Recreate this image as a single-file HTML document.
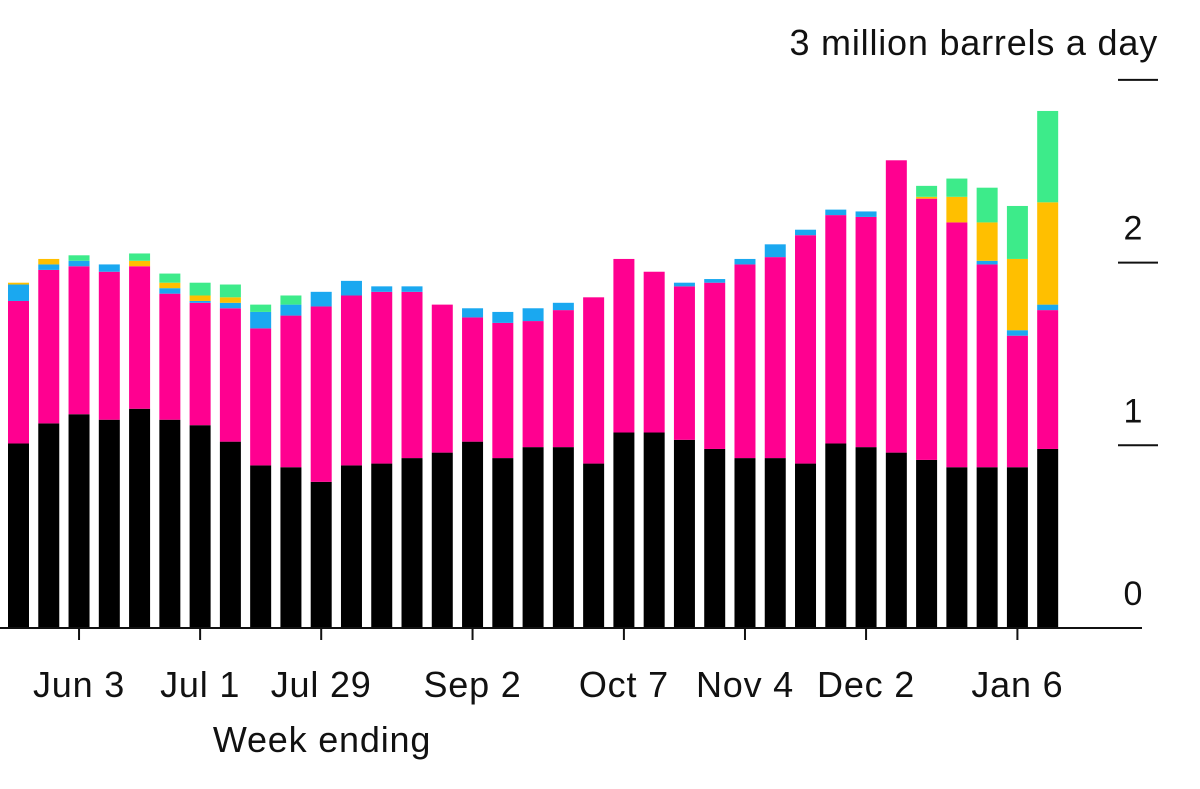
<!DOCTYPE html>
<html><head><meta charset="utf-8"><style>
body{margin:0;background:#fff;font-family:"Liberation Sans",sans-serif}
svg text{font-family:"Liberation Sans",sans-serif;fill:#111}
</style></head><body>
<svg id="chart" width="1200" height="784" viewBox="0 0 1200 784" xmlns="http://www.w3.org/2000/svg"></svg>
<script>
const black=[1.01,1.12,1.17,1.14,1.20,1.14,1.11,1.02,0.89,0.88,0.80,0.89,0.90,0.93,0.96,1.02,0.93,0.99,0.99,0.90,1.07,1.07,1.03,0.98,0.93,0.93,0.90,1.01,0.99,0.96,0.92,0.88,0.88,0.88,0.98];
const pink=[0.78,0.84,0.81,0.81,0.78,0.69,0.67,0.73,0.75,0.83,0.96,0.93,0.94,0.91,0.81,0.68,0.74,0.69,0.75,0.91,0.95,0.88,0.84,0.91,1.06,1.10,1.25,1.25,1.26,1.60,1.43,1.34,1.11,0.72,0.76];
const blue=[0.09,0.03,0.03,0.04,0,0.03,0.01,0.03,0.09,0.06,0.08,0.08,0.03,0.03,0,0.05,0.06,0.07,0.04,0,0,0,0.02,0.02,0.03,0.07,0.03,0.03,0.03,0,0,0,0.02,0.03,0.03];
const yellow=[0.01,0.03,0,0,0.03,0.03,0.03,0.03,0,0,0,0,0,0,0,0,0,0,0,0,0,0,0,0,0,0,0,0,0,0,0.01,0.14,0.21,0.39,0.56];
const green=[0,0,0.03,0,0.04,0.05,0.07,0.07,0.04,0.05,0,0,0,0,0,0,0,0,0,0,0,0,0,0,0,0,0,0,0,0,0.06,0.10,0.19,0.29,0.50];
const xTickLabels=["Jun 3","Jul 1","Jul 29","Sep 2","Oct 7","Nov 4","Dec 2","Jan 6"];
const xTickIdx=[2,6,10,15,20,24,28,33];
const yTicks=[0,1,2,3];
const series=[["black",black,"#000000"],["pink",pink,"#ff0090"],["blue",blue,"#1aa8f0"],["yellow",yellow,"#ffbf00"],["green",green,"#3deb8a"]];

const svg=document.getElementById('chart');
const NS="http://www.w3.org/2000/svg";
const y0=628, k=182.7, step=30.27, bw=21, x0=8;
const yS=v=>y0-v*k;
const xS=i=>x0+i*step;
function el(tag,a){const e=document.createElementNS(NS,tag);for(const n in a)e.setAttribute(n,a[n]);svg.appendChild(e);return e;}

black.forEach((_,i)=>{
  let cum=0;
  series.forEach(([name,arr,col])=>{
    const v=arr[i]; if(v<=0)return;
    const r=el('rect',{x:xS(i),y:yS(cum+v),width:bw,height:v*k,fill:col});
    
    
    cum+=v;
  });
});
const base=el('line',{x1:0,x2:1142,y1:y0,y2:y0,stroke:'#111','stroke-width':2});


xTickIdx.forEach((idx,j)=>{
  const cx=xS(idx)+bw/2;
  const t=el('line',{x1:cx,x2:cx,y1:y0,y2:y0+12,stroke:'#111','stroke-width':2});
  
  
  const l=el('text',{x:cx,y:697,'text-anchor':'middle','font-size':36,'letter-spacing':0.8});
  l.textContent=xTickLabels[j];
  
  
});
yTicks.forEach(v=>{
  const y=yS(v);
  if(v>0){
    const t=el('line',{x1:1118,x2:1158,y1:y,y2:y,stroke:'#111','stroke-width':2});
    
    
  }
  const l=el('text',{x:1133,y:v===3?y-25:y-23,'text-anchor':v===3?'end':'middle','font-size':v===3?36:34,'letter-spacing':v===3?0.8:0});
  if(v===3){l.setAttribute('x',1158);}
  l.textContent=v===3?'3 million barrels a day':String(v);
  
  
});
const xt=el('text',{x:322,y:752,'text-anchor':'middle','font-size':36,'letter-spacing':0.8});
xt.textContent='Week ending';


</script>
</body></html>
